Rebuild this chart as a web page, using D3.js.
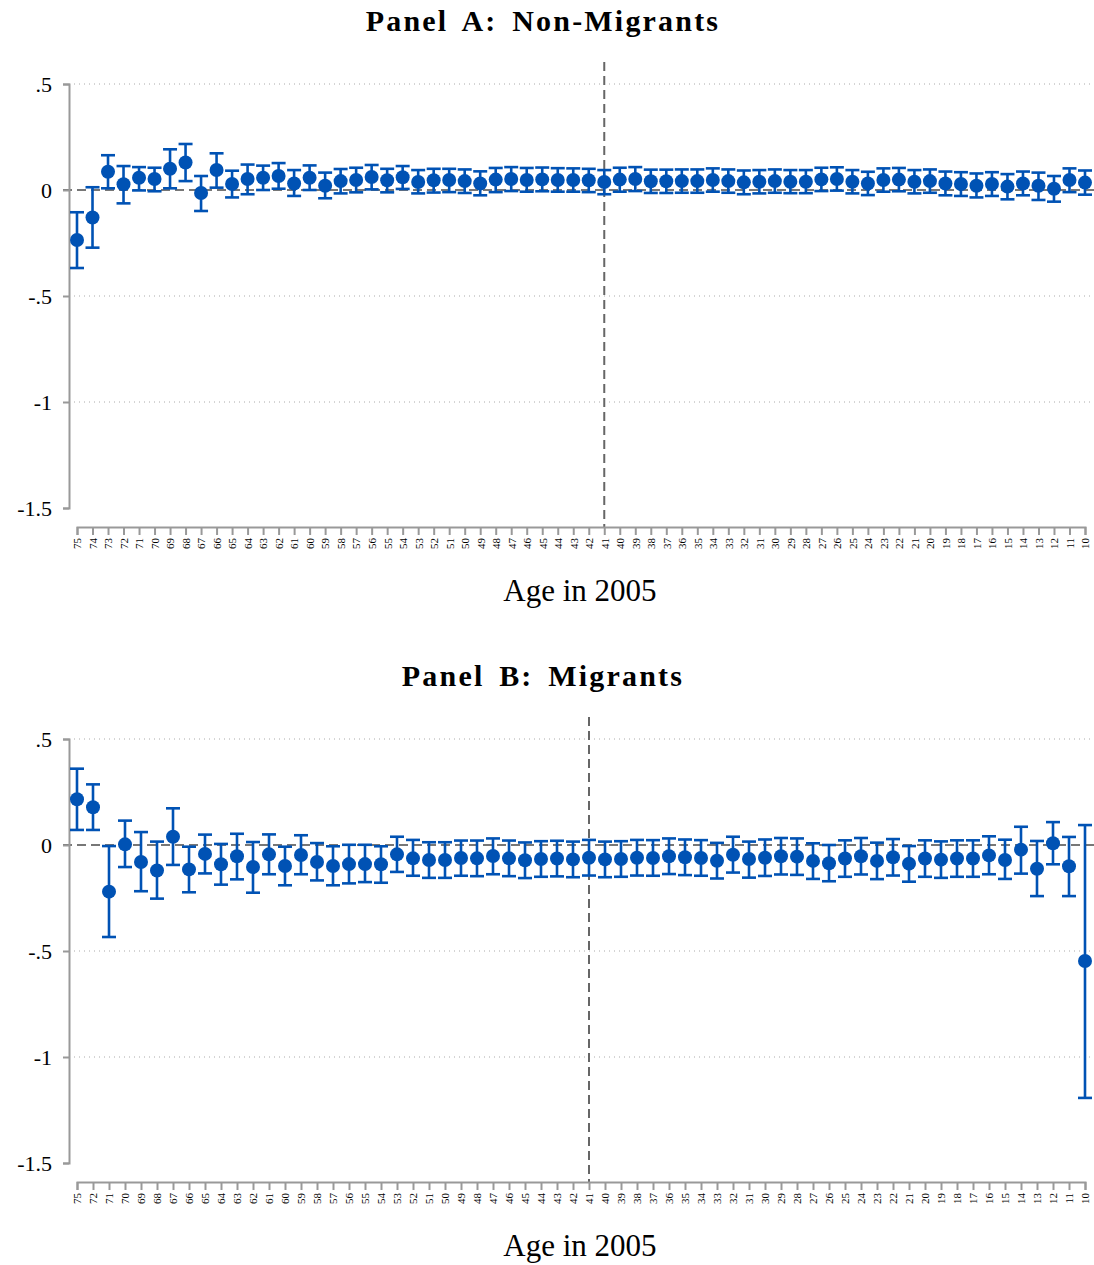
<!DOCTYPE html>
<html>
<head>
<meta charset="utf-8">
<script src="https://cdn.jsdelivr.net/npm/d3@7"></script>
<style>
body { margin: 0; background: #fff; }
svg { display: block; }
</style>
</head>
<body>
<svg id="chart" width="1094" height="1265"></svg>
<script>
// Panel A: non-migrants
const agesA = [75,74,73,72,71,70,69,68,67,66,65,64,63,62,61,60,59,58,57,56,55,54,53,52,51,50,49,48,47,46,45,44,43,42,41,40,39,38,37,36,35,34,33,32,31,30,29,28,27,26,25,24,23,22,21,20,19,18,17,16,15,14,13,12,11,10]
const estA = [-0.236,-0.13,0.086,0.027,0.058,0.052,0.10,0.13,-0.014,0.094,0.028,0.052,0.058,0.066,0.031,0.058,0.02,0.042,0.047,0.061,0.046,0.06,0.038,0.046,0.047,0.042,0.031,0.049,0.052,0.047,0.05,0.047,0.047,0.046,0.038,0.049,0.052,0.041,0.041,0.042,0.042,0.047,0.042,0.036,0.039,0.042,0.039,0.039,0.05,0.052,0.039,0.031,0.047,0.049,0.039,0.042,0.031,0.028,0.02,0.028,0.016,0.031,0.02,0.006,0.047,0.035]
const loA = [-0.368,-0.272,0.008,-0.063,-0.002,-0.006,0.008,0.042,-0.099,0.011,-0.035,-0.02,0.0,0.006,-0.028,0.0,-0.039,-0.016,-0.011,0.003,-0.011,0.005,-0.016,-0.012,-0.01,-0.014,-0.025,-0.01,-0.005,-0.008,-0.006,-0.008,-0.008,-0.01,-0.02,-0.008,-0.005,-0.014,-0.014,-0.013,-0.013,-0.008,-0.013,-0.02,-0.016,-0.013,-0.015,-0.015,-0.005,-0.003,-0.016,-0.024,-0.008,-0.006,-0.016,-0.013,-0.025,-0.028,-0.035,-0.028,-0.044,-0.025,-0.047,-0.055,-0.01,-0.022]
const hiA = [-0.105,0.013,0.164,0.113,0.108,0.105,0.192,0.217,0.066,0.173,0.091,0.12,0.115,0.127,0.094,0.116,0.082,0.099,0.105,0.118,0.10,0.113,0.094,0.10,0.10,0.097,0.088,0.104,0.108,0.104,0.106,0.103,0.102,0.10,0.094,0.105,0.108,0.096,0.096,0.097,0.097,0.102,0.097,0.092,0.094,0.097,0.094,0.094,0.105,0.107,0.094,0.086,0.102,0.104,0.094,0.097,0.087,0.084,0.078,0.084,0.075,0.087,0.082,0.066,0.102,0.092]

// Panel B: migrants (no 74, 73)
const agesB = [75,72,71,70,69,68,67,66,65,64,63,62,61,60,59,58,57,56,55,54,53,52,51,50,49,48,47,46,45,44,43,42,41,40,39,38,37,36,35,34,33,32,31,30,29,28,27,26,25,24,23,22,21,20,19,18,17,16,15,14,13,12,11,10]
const estB = [0.216,0.178,-0.22,0.003,-0.08,-0.12,0.039,-0.115,-0.042,-0.091,-0.053,-0.104,-0.044,-0.099,-0.047,-0.08,-0.099,-0.09,-0.09,-0.091,-0.044,-0.063,-0.071,-0.071,-0.061,-0.063,-0.052,-0.063,-0.072,-0.066,-0.064,-0.068,-0.06,-0.068,-0.066,-0.06,-0.061,-0.053,-0.058,-0.061,-0.074,-0.046,-0.066,-0.06,-0.053,-0.055,-0.075,-0.086,-0.064,-0.053,-0.075,-0.058,-0.088,-0.064,-0.069,-0.064,-0.064,-0.049,-0.071,-0.022,-0.112,0.008,-0.1,-0.547]
const loB = [0.071,0.071,-0.434,-0.104,-0.218,-0.253,-0.094,-0.223,-0.134,-0.187,-0.162,-0.225,-0.138,-0.19,-0.138,-0.167,-0.19,-0.181,-0.175,-0.178,-0.127,-0.145,-0.155,-0.155,-0.145,-0.147,-0.138,-0.147,-0.156,-0.15,-0.148,-0.152,-0.144,-0.152,-0.15,-0.144,-0.145,-0.137,-0.142,-0.145,-0.158,-0.13,-0.154,-0.146,-0.139,-0.141,-0.16,-0.171,-0.15,-0.139,-0.161,-0.144,-0.173,-0.15,-0.155,-0.15,-0.15,-0.138,-0.16,-0.135,-0.241,-0.091,-0.241,-1.193]
const hiB = [0.36,0.286,-0.005,0.115,0.061,0.016,0.173,-0.008,0.049,0.005,0.053,0.014,0.05,-0.008,0.046,0.009,-0.006,0.001,0.001,-0.006,0.039,0.024,0.013,0.013,0.021,0.021,0.031,0.021,0.012,0.018,0.02,0.016,0.024,0.016,0.018,0.024,0.023,0.031,0.026,0.023,0.01,0.039,0.016,0.026,0.033,0.031,0.008,0.0,0.022,0.033,0.011,0.028,-0.005,0.022,0.017,0.022,0.022,0.041,0.025,0.086,0.019,0.108,0.038,0.094]

const yTicks = [0.5, 0, -0.5, -1, -1.5]
const yTickLabels = [".5", "0", "-.5", "-1", "-1.5"]
const cutoffAge = 41

const blue = "#0052b4"
const grey = "#999"
const svg = d3.select("#chart")

function drawPanel(cfg) {
	const g = svg.append("g").attr("transform", `translate(0,${cfg.top})`)
	const x = d3.scalePoint().domain(cfg.ages).range([77, 1085])
	const y = d3.scaleLinear().domain([-1.5, 0.5]).range([508, 84])
	const rows = cfg.ages.map((a, i) => ({ age: a, est: cfg.est[i], lo: cfg.lo[i], hi: cfg.hi[i] }))

	g.append("text")
		.attr("x", 543).attr("y", 31)
		.attr("text-anchor", "middle")
		.attr("font-family", "Liberation Serif, serif")
		.attr("font-weight", "bold")
		.attr("font-size", 30)
		.attr("letter-spacing", 2.2)
		.attr("word-spacing", 5)
		.text(cfg.title)

	// dotted gridlines
	g.selectAll(".grid")
		.data(yTicks.filter(t => t !== 0 && t !== -1.5))
		.enter()
		.append("line")
		.attr("x1", 69).attr("x2", 1094)
		.attr("y1", d => y(d)).attr("y2", d => y(d))
		.attr("stroke", "#aaa")
		.attr("stroke-width", 1)
		.attr("stroke-dasharray", "1,4")

	// zero reference line
	g.append("line")
		.attr("x1", 63).attr("x2", 1094)
		.attr("y1", y(0)).attr("y2", y(0))
		.attr("stroke", "#777")
		.attr("stroke-width", 2)
		.attr("stroke-dasharray", "9,5")

	// vertical line at cutoff age
	g.append("line")
		.attr("x1", x(cutoffAge)).attr("x2", x(cutoffAge))
		.attr("y1", 62).attr("y2", 527)
		.attr("stroke", "#666")
		.attr("stroke-width", 2)
		.attr("stroke-dasharray", "9,5")

	// y axis
	const yAxis = g.append("g")
		.attr("transform", "translate(69,0)")
		.call(d3.axisLeft(y).tickValues(yTicks).tickSizeOuter(0).tickSize(6)
			.tickFormat((d, i) => yTickLabels[i]))
	yAxis.selectAll("path, line").attr("stroke", grey).attr("stroke-width", 2)
	yAxis.selectAll("text")
		.attr("font-family", "Liberation Serif, serif")
		.attr("font-size", 22)
		.attr("fill", "#000")
		.attr("x", -17)

	// x axis
	const xAxis = g.append("g")
		.attr("transform", "translate(0,527)")
		.call(d3.axisBottom(x).tickSizeOuter(0).tickSize(8))
	xAxis.selectAll("path, line").attr("stroke", grey).attr("stroke-width", 2)
	xAxis.selectAll("text")
		.attr("font-family", "Liberation Serif, serif")
		.attr("font-size", 11)
		.attr("fill", "#000")
		.attr("transform", "rotate(-90)")
		.attr("text-anchor", "end")
		.attr("x", -11)
		.attr("y", 0)
		.attr("dy", "0.35em")

	g.append("text")
		.attr("x", 580).attr("y", 601)
		.attr("text-anchor", "middle")
		.attr("font-family", "Liberation Serif, serif")
		.attr("font-size", 31)
		.text("Age in 2005")

	// error bars
	const bars = g.selectAll(".ci").data(rows).enter().append("g")
	bars.append("line")
		.attr("x1", d => x(d.age)).attr("x2", d => x(d.age))
		.attr("y1", d => y(d.hi)).attr("y2", d => y(d.lo))
		.attr("stroke", blue).attr("stroke-width", 2.6)
	bars.selectAll(".cap")
		.data(d => [d.hi, d.lo].map(v => ({ age: d.age, v })))
		.enter()
		.append("line")
		.attr("x1", d => x(d.age) - 7).attr("x2", d => x(d.age) + 7)
		.attr("y1", d => y(d.v)).attr("y2", d => y(d.v))
		.attr("stroke", blue).attr("stroke-width", 2.6)
	g.selectAll(".pt").data(rows).enter().append("circle")
		.attr("cx", d => x(d.age))
		.attr("cy", d => y(d.est))
		.attr("r", 7)
		.attr("fill", blue)
}

drawPanel({ top: 0, title: "Panel A: Non-Migrants", ages: agesA, est: estA, lo: loA, hi: hiA })
drawPanel({ top: 655, title: "Panel B: Migrants", ages: agesB, est: estB, lo: loB, hi: hiB })
</script>
</body>
</html>
